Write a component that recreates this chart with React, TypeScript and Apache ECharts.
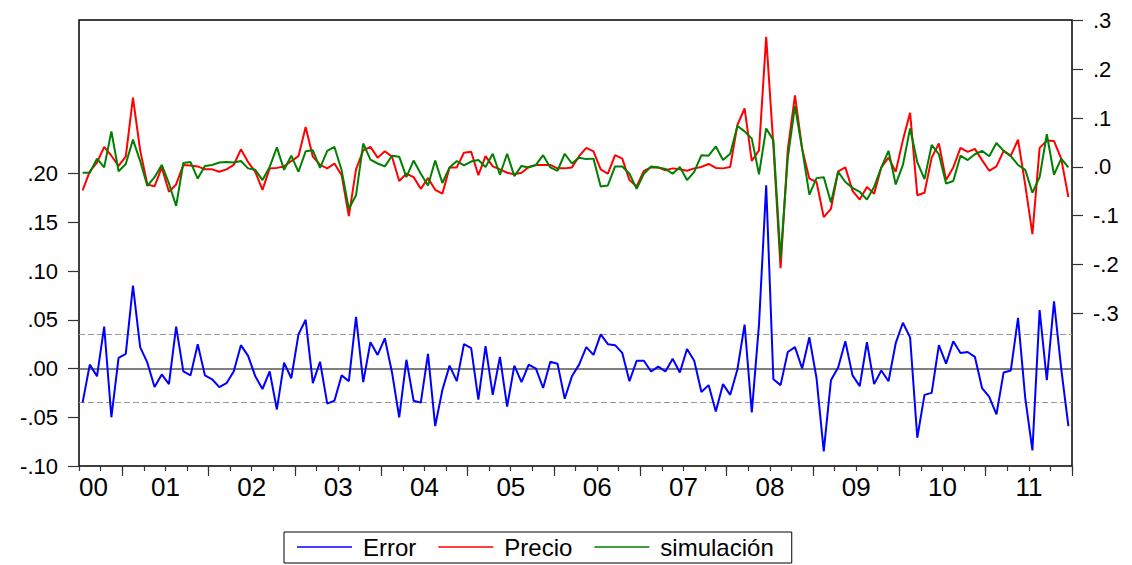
import React, { useEffect, useRef } from "react";
import * as echarts from "echarts";

// Monthly observations, 2000M07 .. 2011M12
const START_YEAR = 2000;
const START_MONTH = 7;

const errorVals = [
  -0.035, 0.004, -0.008, 0.043, -0.050, 0.011, 0.015, 0.085, 0.022, 0.006,
  -0.019, -0.006, -0.016, 0.043, -0.003, -0.007, 0.025, -0.007, -0.011, -0.019,
  -0.015, -0.003, 0.024, 0.013, -0.008, -0.021, -0.003, -0.042, 0.006, -0.010,
  0.035, 0.050, -0.015, 0.007, -0.036, -0.033, -0.007, -0.013, 0.053, -0.014,
  0.027, 0.014, 0.031, -0.004, -0.050, 0.009, -0.033, -0.035, 0.015, -0.059,
  -0.022, 0.003, -0.013, 0.025, 0.021, -0.032, 0.023, -0.027, 0.012, -0.039,
  0.003, -0.014, 0.004, 0.000, -0.020, 0.007, 0.005, -0.031, -0.008, 0.004,
  0.022, 0.014, 0.035, 0.025, 0.024, 0.016, -0.013, 0.008, 0.008, -0.003,
  0.002, -0.003, 0.010, -0.004, 0.020, 0.008, -0.024, -0.017, -0.044, -0.016,
  -0.027, -0.001, 0.045, -0.045, 0.045, 0.188, -0.011, -0.017, 0.017, 0.022,
  0.000, 0.032, -0.010, -0.085, -0.012, 0.001, 0.028, -0.007, -0.018, 0.027,
  -0.016, -0.002, -0.013, 0.026, 0.047, 0.032, -0.071, -0.027, -0.025, 0.024,
  0.005, 0.028, 0.016, 0.017, 0.012, -0.020, -0.029, -0.047, -0.004, -0.002,
  0.052, -0.030, -0.084, 0.060, -0.012, 0.069, 0.000, -0.059,
];

const precio = [
  -0.048, -0.009, 0.009, 0.041, 0.023, 0.002, 0.021, 0.142, 0.034, -0.036,
  -0.040, -0.001, -0.051, -0.036, 0.004, 0.003, 0.001, -0.005, -0.005, -0.010,
  -0.005, 0.004, 0.036, 0.010, -0.010, -0.047, -0.003, -0.002, 0.001, 0.012,
  0.022, 0.082, 0.021, 0.004, -0.003, 0.007, -0.017, -0.101, -0.005, 0.034,
  0.041, 0.019, 0.032, 0.021, -0.029, -0.014, -0.021, -0.045, -0.023, -0.047,
  -0.055, -0.001, -0.001, 0.029, 0.031, -0.017, 0.022, 0.001, -0.005, -0.012,
  -0.015, -0.012, 0.000, 0.004, 0.004, 0.004, -0.003, -0.003, -0.001, 0.022,
  0.039, 0.032, -0.005, -0.014, 0.024, 0.017, -0.027, -0.040, -0.008, -0.001,
  -0.001, -0.007, -0.003, -0.005, -0.008, -0.003, 0.000, 0.006, -0.002, -0.003,
  0.000, 0.086, 0.120, 0.012, 0.034, 0.267, 0.044, -0.208, 0.035, 0.147,
  0.037, -0.024, -0.031, -0.103, -0.086, -0.009, -0.001, -0.049, -0.067, -0.041,
  -0.055, -0.001, 0.019, -0.010, 0.055, 0.111, -0.058, -0.053, 0.019, 0.048,
  -0.027, -0.001, 0.039, 0.031, 0.037, 0.014, -0.008, 0.001, 0.033, 0.023,
  0.056, -0.037, -0.138, 0.039, 0.054, 0.053, 0.017, -0.062,
];

const simulacion = [
  -0.012, -0.012, 0.017, -0.001, 0.073, -0.009, 0.006, 0.056, 0.012, -0.039,
  -0.021, 0.004, -0.034, -0.080, 0.008, 0.010, -0.024, 0.002, 0.004, 0.009,
  0.010, 0.009, 0.012, -0.003, -0.006, -0.027, 0.000, 0.040, -0.006, 0.023,
  -0.010, 0.032, 0.034, -0.002, 0.033, 0.041, -0.007, -0.086, -0.058, 0.048,
  0.015, 0.007, 0.001, 0.023, 0.021, -0.021, 0.013, -0.014, -0.038, 0.013,
  -0.033, -0.001, 0.012, 0.003, 0.011, 0.014, 0.000, 0.027, -0.016, 0.027,
  -0.019, 0.002, -0.001, 0.004, 0.024, -0.001, -0.008, 0.027, 0.007, 0.019,
  0.016, 0.017, -0.040, -0.038, 0.001, 0.001, -0.014, -0.045, -0.014, 0.001,
  -0.001, -0.004, -0.014, 0.000, -0.027, -0.010, 0.024, 0.023, 0.042, 0.014,
  0.027, 0.084, 0.073, 0.058, -0.015, 0.079, 0.055, -0.188, 0.018, 0.125,
  0.037, -0.057, -0.023, -0.021, -0.073, -0.010, -0.031, -0.043, -0.051, -0.067,
  -0.041, -0.001, 0.033, -0.036, 0.004, 0.079, 0.010, -0.025, 0.045, 0.026,
  -0.034, -0.029, 0.023, 0.014, 0.026, 0.033, 0.022, 0.049, 0.033, 0.022,
  0.004, -0.006, -0.053, -0.021, 0.067, -0.016, 0.017, -0.001,
];

const yearLabels = ["00", "01", "02", "03", "04", "05", "06", "07", "08", "09", "10", "11"];
const leftTickValues = [-0.1, -0.05, 0, 0.05, 0.1, 0.15, 0.2];
const rightTickValues = [-0.3, -0.2, -0.1, 0, 0.1, 0.2, 0.3];
const residualSE = 0.0347;

const months = errorVals.map((_, i) => {
  const m = START_MONTH - 1 + i;
  const y = START_YEAR + Math.floor(m / 12);
  const mo = (m % 12) + 1;
  return `${y}M${String(mo).padStart(2, "0")}`;
});

const FONT = "'Liberation Sans', Arial, Helvetica, sans-serif";

export default function App() {
  const ref = useRef<HTMLDivElement>(null);

  useEffect(() => {
    if (!ref.current) return;
    const chart = echarts.init(ref.current, null, { renderer: "svg" });
    const option = {
      animation: false,
      backgroundColor: "#ffffff",
      textStyle: { fontFamily: FONT, color: "#000" },
      grid: {
        left: 79,
        top: 20,
        right: 60,
        bottom: 99,
        show: true,
        borderColor: "#000",
        borderWidth: 1.5,
        backgroundColor: "transparent",
      },
      legend: {
        data: ["Error", "Precio", "simulación"],
        left: 284,
        top: 532,
        orient: "horizontal",
        icon: "rect",
        itemWidth: 55,
        itemHeight: 1.5,
        itemGap: 22,
        padding: [3, 18, 4, 13],
        borderColor: "#000",
        borderWidth: 1,
        textStyle: { fontSize: 24, fontFamily: FONT, color: "#000", padding: [0, 0, 0, 6], lineHeight: 23 },
      },
      xAxis: [
        {
          type: "category",
          data: months,
          boundaryGap: true,
          position: "bottom",
          axisLine: { show: false, onZero: false },
          axisTick: {
            show: true,
            length: 5,
            interval: (index: number) => index % 3 === 0,
            lineStyle: { color: "#333", width: 1.2 },
          },
          axisLabel: {
            show: true,
            interval: (index: number) => index === 2 || (index >= 12 && index % 12 === 0),
            formatter: (value: string) => yearLabels[parseInt(value.slice(0, 4), 10) - START_YEAR],
            fontSize: 26,
            margin: 8,
            color: "#000",
            padding: [0, 7, 0, 0],
          },
          splitLine: { show: false },
        },
        {
          type: "category",
          data: months,
          boundaryGap: true,
          position: "bottom",
          axisLine: { show: false, onZero: false },
          axisTick: {
            show: true,
            length: 10,
            interval: (index: number) => index % 12 === 12 - START_MONTH + 1,
            lineStyle: { color: "#333", width: 1.2 },
          },
          axisLabel: { show: false },
          splitLine: { show: false },
        },
      ],
      yAxis: [
        {
          type: "value",
          position: "left",
          min: -0.1,
          max: 0.3576,
          axisLine: { show: false },
          axisTick: {
            show: true,
            length: 11,
            customValues: leftTickValues,
            lineStyle: { color: "#333", width: 1.2 },
          },
          axisLabel: {
            show: true,
            customValues: leftTickValues,
            formatter: (v: number) => v.toFixed(2).replace("0.", "."),
            fontSize: 22,
            margin: 21,
            color: "#000",
          },
          splitLine: { show: false },
        },
        {
          type: "value",
          position: "right",
          min: -0.6136,
          max: 0.3014,
          axisLine: { show: false },
          axisTick: {
            show: true,
            length: 11,
            customValues: rightTickValues,
            lineStyle: { color: "#333", width: 1.2 },
          },
          axisLabel: {
            show: true,
            customValues: rightTickValues,
            formatter: (v: number) => v.toFixed(1).replace("0.", "."),
            fontSize: 22,
            margin: 21,
            color: "#000",
          },
          splitLine: { show: false },
        },
      ],
      series: [
        {
          name: "Error",
          type: "line",
          xAxisIndex: 0,
          yAxisIndex: 0,
          data: errorVals,
          showSymbol: false,
          symbol: "none",
          lineStyle: { color: "#0000ff", width: 2 },
          itemStyle: { color: "#0000ff" },
          z: 3,
          markLine: {
            silent: true,
            symbol: "none",
            precision: 6,
            label: { show: false },
            z: 1,
            data: [
              { yAxis: 0, lineStyle: { color: "#555", width: 1.5, type: "solid" } },
              { yAxis: residualSE, lineStyle: { color: "#999", width: 1.2, type: [6, 3] } },
              { yAxis: -residualSE, lineStyle: { color: "#999", width: 1.2, type: [6, 3] } },
            ],
          },
        },
        {
          name: "Precio",
          type: "line",
          xAxisIndex: 0,
          yAxisIndex: 1,
          data: precio,
          showSymbol: false,
          symbol: "none",
          lineStyle: { color: "#ff0000", width: 2 },
          itemStyle: { color: "#ff0000" },
          z: 4,
        },
        {
          name: "simulación",
          type: "line",
          xAxisIndex: 0,
          yAxisIndex: 1,
          data: simulacion,
          showSymbol: false,
          symbol: "none",
          lineStyle: { color: "#008000", width: 2 },
          itemStyle: { color: "#008000" },
          z: 5,
        },
      ],
    };
    chart.setOption(option as any);
    return () => {
      chart.dispose();
    };
  }, []);

  return (
    <div
      ref={ref}
      style={{ position: "absolute", left: 0, top: 0, width: 1132, height: 565, background: "#fff" }}
    />
  );
}
